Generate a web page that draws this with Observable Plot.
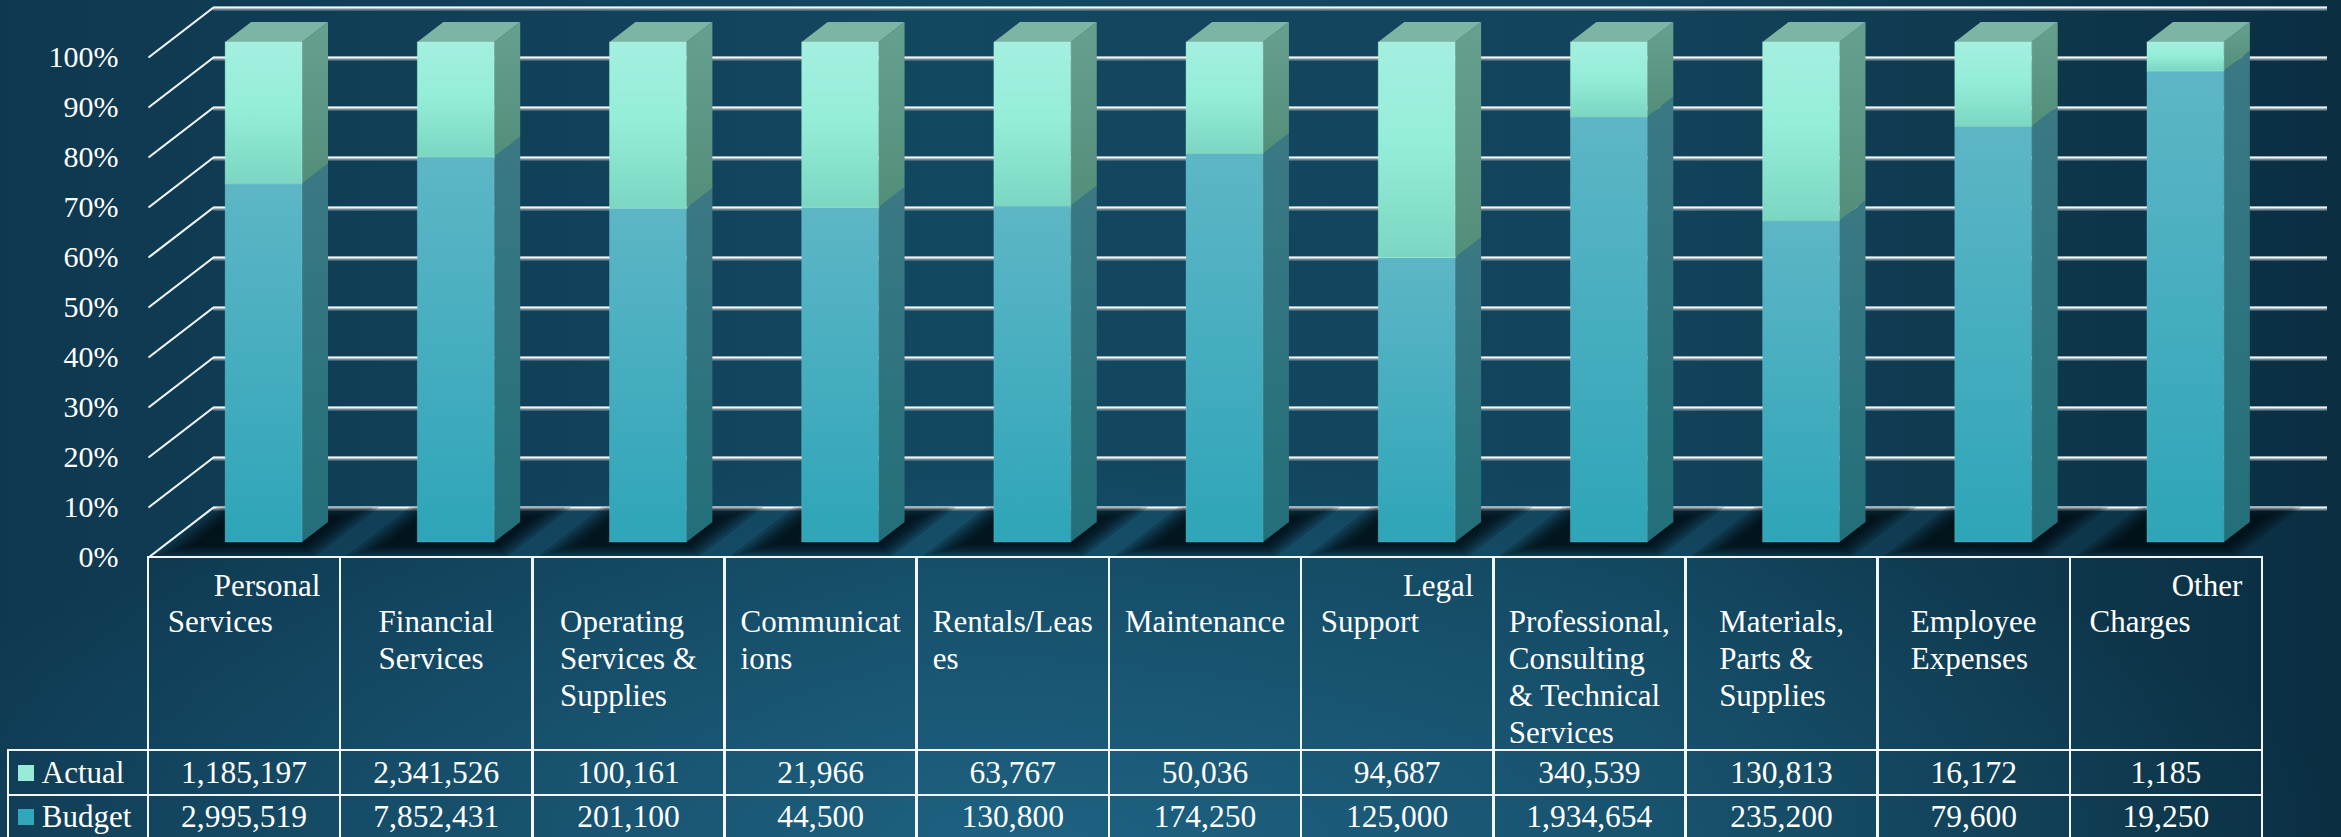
<!DOCTYPE html>
<html><head><meta charset="utf-8">
<script src="https://cdn.jsdelivr.net/npm/d3@7"></script>
<script src="https://cdn.jsdelivr.net/npm/@observablehq/plot@0.6"></script>
<style>
html,body{margin:0;padding:0;width:2341px;height:837px;overflow:hidden;}
body{position:relative;font-family:"Liberation Serif","Times New Roman",serif;color:#fff;
background:
 radial-gradient(ellipse 55% 45% at 45% 100%, rgba(38,118,155,0.55), rgba(38,118,155,0) 100%),
 linear-gradient(90deg,#0e384f 0%,#134861 40%,#12445c 70%,#0b2e41 100%);}
#chart{position:absolute;left:0;top:0;}
.cell{position:absolute;box-sizing:border-box;border:2.5px solid #f2f6f8;font-size:31px;}
.hdr{padding-top:10px;text-align:center;}
.blk{display:inline-block;text-align:left;line-height:36.7px;white-space:nowrap;}
.blk.wide{display:block;padding:0 19px;}
.blk.wide .l0{text-align:right;}
.num{display:flex;align-items:center;justify-content:center;font-size:31.5px;}
.lab{display:flex;align-items:center;padding-left:9px;font-size:31px;}
.sw{width:16px;height:16px;margin-right:8px;}
</style></head>
<body><div id="chart"></div><div id="tbl"></div>
<script>
// ---------- data ----------
const categories = ["Personal Services","Financial Services","Operating Services & Supplies","Communications","Rentals/Leases","Maintenance","Legal Support","Professional, Consulting & Technical Services","Materials, Parts & Supplies","Employee Expenses","Other Charges"];
const headerLines = [
  ["Personal","Services"],
  ["","Financial","Services"],
  ["","Operating","Services &","Supplies"],
  ["","Communicat","ions"],
  ["","Rentals/Leas","es"],
  ["","Maintenance"],
  ["Legal","Support"],
  ["","Professional,","Consulting","& Technical","Services"],
  ["","Materials,","Parts &","Supplies"],
  ["","Employee","Expenses"],
  ["Other","Charges"]
];
const actual = [1185197, 2341526, 100161, 21966, 63767, 50036, 94687, 340539, 130813, 16172, 1185];
const budget = [2995519, 7852431, 201100, 44500, 130800, 174250, 125000, 1934654, 235200, 79600, 19250];
const seriesNames = ["Actual","Budget"];
const yTicks = [0,10,20,30,40,50,60,70,80,90,100];

// ---------- layout ----------
const W = 2341, H = 560;
const plotLeft = 148, plotRight = 2262, plotTop = 57, plotBottom = 557;
const n = categories.length;
const xUnit = (plotRight - plotLeft) / n;
const yUnit = (plotBottom - plotTop) / 100;
const SLANT = 1.3;
const depth = d => ({x: SLANT * d / xUnit, y: d / yUnit});
const F = depth(15), B = depth(35), P = depth(50);
const half = 0.2;

const budgetPct = budget.map((b, i) => 100 * b / (b + actual[i]));
const segs = [];
categories.forEach((c, i) => {
  segs.push({i, s: "Budget", y1: 0, y2: budgetPct[i]});
  segs.push({i, s: "Actual", y1: budgetPct[i], y2: 100});
});
const sidePts = segs.flatMap(g => [
  {key: g.s + g.i, s: g.s, x: g.i + 0.5 + half + F.x, y1: g.y1 + F.y, y2: g.y2 + F.y},
  {key: g.s + g.i, s: g.s, x: g.i + 0.5 + half + B.x, y1: g.y1 + B.y, y2: g.y2 + B.y}
]);
const topPts = categories.flatMap((c, i) => [
  {key: i, y: 100 + F.y, x1: i + 0.5 - half + F.x, x2: i + 0.5 + half + F.x},
  {key: i, y: 100 + B.y, x1: i + 0.5 - half + B.x, x2: i + 0.5 + half + B.x}
]);
// soft floor shadow built from stacked translucent layers (wide → narrow)
const shadowSpread = [26, 21, 16, 12, 8, 4, 0];
const shadowPts = shadowSpread.flatMap((e, l) => categories.flatMap((c, i) => {
  const d0 = depth(Math.max(0, 12 - e * 0.45)), d1 = depth(Math.min(50, 40 + e * 0.45));
  const xl = i + 0.5 - half - 0.14 - e / xUnit, xr = i + 0.5 + half + 0.03 + e / xUnit;
  return [
    {key: l + "-" + i, y: d0.y, x1: xl + d0.x, x2: xr + d0.x},
    {key: l + "-" + i, y: d1.y, x1: xl + d1.x, x2: xr + d1.x}
  ];
}));

const chart = Plot.plot({
  width: W, height: H,
  marginLeft: plotLeft, marginRight: W - plotRight, marginTop: plotTop, marginBottom: H - plotBottom,
  style: {background: "transparent", fontFamily: "Liberation Serif, Times New Roman, serif", overflow: "visible"},
  x: {domain: [0, n], axis: null},
  y: {domain: [0, 100], axis: null},
  marks: [
    // back wall gridlines
    Plot.ruleY(yTicks, {y: d => d + P.y, x1: P.x, x2: n + P.x, stroke: "#6f8793", strokeWidth: 4, dy: 1}),
    Plot.ruleY(yTicks, {y: d => d + P.y, x1: P.x, x2: n + P.x, stroke: "#f3f7f8", strokeWidth: 2.2}),
    // left wall lines
    Plot.link(yTicks, {x1: 0, y1: d => d, x2: P.x, y2: d => d + P.y, stroke: "#f3f7f8", strokeWidth: 2.2}),
    // floor shadows
    Plot.areaX(shadowPts, {y: "y", x1: "x1", x2: "x2", z: "key", fill: "#02080d", fillOpacity: 0.2}),
    // side faces
    Plot.areaY(sidePts.filter(d => d.s === "Budget"), {x: "x", y1: "y1", y2: "y2", z: "key", fill: "url(#sideBudget)"}),
    Plot.areaY(sidePts.filter(d => d.s === "Actual"), {x: "x", y1: "y1", y2: "y2", z: "key", fill: "url(#sideActual)"}),
    // top faces
    Plot.areaX(topPts, {y: "y", x1: "x1", x2: "x2", z: "key", fill: "#7db5a5"}),
    // front faces
    Plot.rect(segs.filter(d => d.s === "Budget"), {x1: d => d.i + 0.5 - half + F.x, x2: d => d.i + 0.5 + half + F.x,
      y1: d => d.y1 + F.y, y2: d => d.y2 + F.y, fill: "url(#frontBudget)", stroke: "#7cc6d2", strokeOpacity: 0.35, strokeWidth: 1}),
    Plot.rect(segs.filter(d => d.s === "Actual"), {x1: d => d.i + 0.5 - half + F.x, x2: d => d.i + 0.5 + half + F.x,
      y1: d => d.y1 + F.y, y2: d => d.y2 + F.y, fill: "url(#frontActual)", stroke: "#b8f3e6", strokeOpacity: 0.35, strokeWidth: 1}),
    // y tick labels
    Plot.text(yTicks, {x: 0, y: d => d, text: d => d + "%", textAnchor: "end", dx: -30, fontSize: 30, fill: "#ffffff"})
  ]
});

const svg = d3.select(chart);
const defs = svg.insert("defs", ":first-child");
function grad(id, stops) {
  const g = defs.append("linearGradient").attr("id", id).attr("x1", 0).attr("y1", 0).attr("x2", 0).attr("y2", 1);
  stops.forEach(([o, c]) => g.append("stop").attr("offset", o).attr("stop-color", c));
}
grad("frontBudget", [[0, "#5db6c6"], [1, "#2ea5b8"]]);
grad("frontActual", [[0, "#a4efe0"], [0.45, "#95eed8"], [1, "#7bd7c2"]]);
grad("sideBudget", [[0, "#3b7984"], [1, "#236f79"]]);
grad("sideActual", [[0, "#66a08f"], [1, "#538e7b"]]);
document.getElementById("chart").appendChild(chart);

// ---------- data table ----------
const tbl = d3.select("#tbl");
const colX = k => plotLeft + k * xUnit;
const rows = [{top: 557, h: 193}, {top: 750, h: 45}, {top: 795, h: 44}];
function cell(x, y, w, h, cls) {
  return tbl.append("div").attr("class", "cell " + cls)
    .style("left", (x - 1.25) + "px").style("top", (y - 1.25) + "px")
    .style("width", (w + 2.5) + "px").style("height", (h + 2.5) + "px");
}
categories.forEach((c, k) => {
  const d = cell(colX(k), rows[0].top, xUnit, rows[0].h, "hdr");
  const lines = headerLines[k];
  const blk = d.append("div").attr("class", "blk" + (lines[0] ? " wide" : ""));
  lines.forEach((t, j) => blk.append("div").attr("class", "l" + j).html(t === "" ? "&nbsp;" : t));
});
const fmt = d3.format(",");
[{name: "Actual", vals: actual, color: "#98ecd7"}, {name: "Budget", vals: budget, color: "#33a7ba"}].forEach((s, r) => {
  const row = rows[r + 1];
  const lab = cell(8, row.top, plotLeft - 8, row.h, "lab");
  lab.append("div").attr("class", "sw").style("background", s.color);
  lab.append("span").text(s.name);
  s.vals.forEach((v, k) => cell(colX(k), row.top, xUnit, row.h, "num").text(fmt(v)));
});
</script>
</body></html>
